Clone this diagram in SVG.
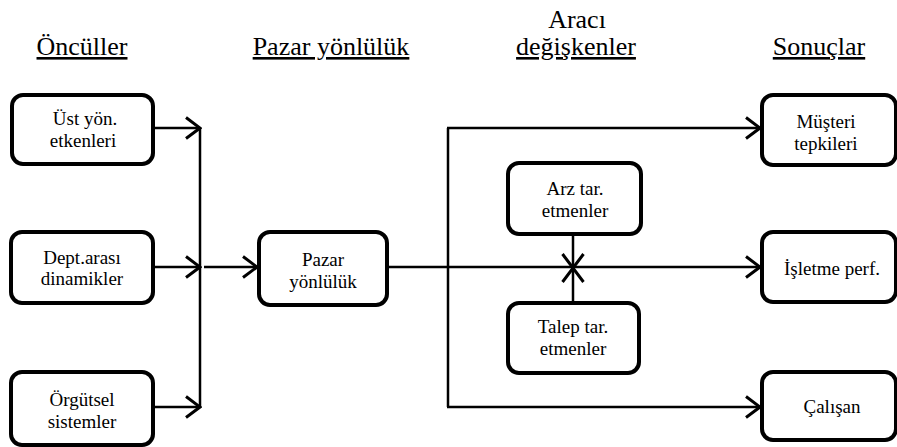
<svg xmlns="http://www.w3.org/2000/svg" width="897" height="447" viewBox="0 0 897 447">
  <style>
    .box { fill: #ffffff; stroke: #000000; stroke-width: 4; }
    .lbl { font-family: 'Liberation Serif', 'Times New Roman', serif; font-size: 19px; fill: #000000; text-anchor: middle; }
    .hdr { font-family: 'Liberation Serif', 'Times New Roman', serif; font-size: 26px; fill: #000000; text-anchor: middle; }
    .u { text-decoration: underline; }
    .wire { fill: none; stroke: #000000; stroke-width: 2.5; }
  </style>
  <defs>
    <marker id="arrow" viewBox="0 0 18 24" refX="16" refY="12" markerWidth="18" markerHeight="24" markerUnits="userSpaceOnUse" orient="auto">
      <path d="M2,1.5 L16,12 L2,22.5" fill="none" stroke="#000000" stroke-width="3"/>
    </marker>
  </defs>

  <rect width="897" height="447" fill="#ffffff"/>

  <!-- column headers -->
  <g id="headers">
    <text class="hdr u" x="82" y="55">Öncüller</text>
    <text class="hdr u" x="331" y="55">Pazar yönlülük</text>
    <text class="hdr" x="577" y="28">Aracı</text>
    <text class="hdr u" x="576" y="55">değişkenler</text>
    <text class="hdr u" x="819" y="55">Sonuçlar</text>
  </g>

  <!-- connectors -->
  <g id="connectors">
    <path class="wire" d="M153,128 H200" marker-end="url(#arrow)"/>
    <path class="wire" d="M153,267 H200" marker-end="url(#arrow)"/>
    <path class="wire" d="M153,407 H200" marker-end="url(#arrow)"/>
    <path class="wire" d="M200,128 V407"/>
    <path class="wire" d="M204,267 H257" marker-end="url(#arrow)"/>
    <path class="wire" d="M387,267 H760" marker-end="url(#arrow)"/>
    <path class="wire" d="M448,128 V407"/>
    <path class="wire" d="M447,128 H760" marker-end="url(#arrow)"/>
    <path class="wire" d="M447,407 H760" marker-end="url(#arrow)"/>
    <path class="wire" d="M573,234 V268" marker-end="url(#arrow)"/>
    <path class="wire" d="M573,303 V268" marker-end="url(#arrow)"/>
  </g>

  <!-- antecedents -->
  <g id="ust-yon">
    <rect class="box" x="12" y="95" width="141" height="69" rx="11"/>
    <text class="lbl" x="85" y="125">Üst yön.</text>
    <text class="lbl" x="83" y="147">etkenleri</text>
  </g>
  <g id="dept-arasi">
    <rect class="box" x="11" y="232" width="142" height="71" rx="11"/>
    <text class="lbl" x="82" y="264">Dept.arası</text>
    <text class="lbl" x="82" y="285">dinamikler</text>
  </g>
  <g id="orgutsel">
    <rect class="box" x="11" y="372" width="142" height="73" rx="11"/>
    <text class="lbl" x="82" y="406">Örgütsel</text>
    <text class="lbl" x="82" y="428">sistemler</text>
  </g>

  <!-- market orientation -->
  <g id="pazar">
    <rect class="box" x="259" y="232" width="128" height="73" rx="11"/>
    <text class="lbl" x="323" y="266">Pazar</text>
    <text class="lbl" x="323" y="288">yönlülük</text>
  </g>

  <!-- moderators -->
  <g id="arz">
    <rect class="box" x="508" y="163" width="133" height="71" rx="11"/>
    <text class="lbl" x="575" y="195">Arz tar.</text>
    <text class="lbl" x="575" y="217">etmenler</text>
  </g>
  <g id="talep">
    <rect class="box" x="508" y="303" width="131" height="70" rx="11"/>
    <text class="lbl" x="573" y="333">Talep tar.</text>
    <text class="lbl" x="573" y="355">etmenler</text>
  </g>

  <!-- consequences -->
  <g id="musteri">
    <rect class="box" x="762" y="95" width="134" height="70" rx="11"/>
    <text class="lbl" x="826" y="128">Müşteri</text>
    <text class="lbl" x="826" y="150">tepkileri</text>
  </g>
  <g id="isletme">
    <rect class="box" x="762" y="232" width="134" height="70" rx="11"/>
    <text class="lbl" x="832" y="275">İşletme perf.</text>
  </g>
  <g id="calisan">
    <rect class="box" x="762" y="372" width="134" height="68" rx="11"/>
    <text class="lbl" x="832" y="413">Çalışan</text>
  </g>
</svg>
